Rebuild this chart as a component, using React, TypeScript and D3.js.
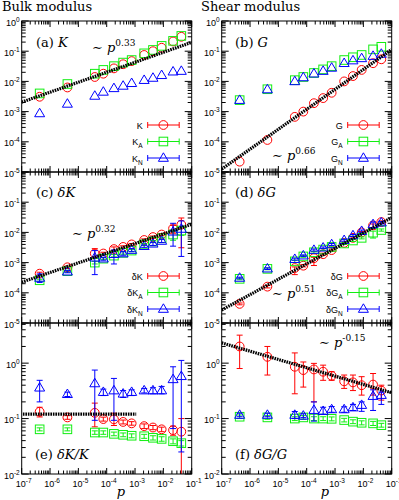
import React from "react";
import * as d3 from "d3";

// pressure values (shared by every series)
const pVals = [4.3e-7, 4.1e-6, 3.8e-5, 7.6e-5, 1.8e-4, 3.8e-4, 7.6e-4, 2.1e-3, 4.3e-3, 8.7e-3, 2.2e-2, 4.3e-2];

// (a) bulk modulus
const kTot = [3.1e-3, 6.3e-3, 1.4e-2, 1.8e-2, 2.7e-2, 3.7e-2, 4.7e-2, 7.5e-2, 0.1, 0.13, 0.21, 0.3];
const kAff = [4.0e-3, 8.2e-3, 1.8e-2, 2.4e-2, 3.2e-2, 4.2e-2, 5.1e-2, 8.5e-2, 0.11, 0.15, 0.22, 0.32];
const kNon = [8.7e-4, 1.8e-3, 3.3e-3, 4.5e-3, 5.9e-3, 7.1e-3, 8.7e-3, 1.1e-2, 1.3e-2, 1.6e-2, 2.1e-2, 2.2e-2];

// (b) shear modulus
const gTot = [2.2e-5, 1.15e-4, 6.7e-4, 1.0e-3, 1.9e-3, 2.8e-3, 4.2e-3, 1.0e-2, 1.5e-2, 2.4e-2, 4.0e-2, 5.4e-2];
const gAff = [2.4e-3, 5.5e-3, 1.1e-2, 1.4e-2, 1.9e-2, 2.5e-2, 3.2e-2, 5.1e-2, 6.3e-2, 7.5e-2, 0.115, 0.14];
const gNon = [2.4e-3, 5.4e-3, 1.0e-2, 1.35e-2, 1.8e-2, 2.2e-2, 2.8e-2, 4.0e-2, 4.9e-2, 5.8e-2, 6.9e-2, 8.1e-2];

// (c) fluctuations of K
const dkTot = [4.3e-4, 7.0e-4, 2.0e-3, 2.0e-3, 2.8e-3, 3.3e-3, 4.0e-3, 5.6e-3, 7.0e-3, 8.5e-3, 1.35e-2, 1.8e-2];
const dkTotErr = [[3.9e-4, 4.8e-4], [6.4e-4, 7.7e-4], [1.4e-3, 2.9e-3], [1.8e-3, 2.2e-3], [2.4e-3, 3.3e-3], [3.0e-3, 3.6e-3], [3.7e-3, 4.3e-3], [5.1e-3, 6.1e-3], [6.4e-3, 7.6e-3], [7.8e-3, 9.2e-3], [9e-3, 1.7e-2], [3.1e-3, 3.0e-2]];
const dkAff = [2.6e-4, 5.2e-4, 1.0e-3, 1.35e-3, 1.7e-3, 2.1e-3, 2.5e-3, 4.0e-3, 5.0e-3, 6.4e-3, 8.5e-3, 1.15e-2];
const dkAffErr = [[2.4e-4, 2.8e-4], [4.8e-4, 5.6e-4], [9e-4, 1.1e-3], [1.25e-3, 1.45e-3], [1.55e-3, 1.85e-3], [1.9e-3, 2.3e-3], [2.3e-3, 2.7e-3], [3.7e-3, 4.3e-3], [4.6e-3, 5.4e-3], [5.9e-3, 6.9e-3], [5.5e-3, 1.1e-2], [8e-3, 1.5e-2]];
const dkNon = [3.1e-4, 5.0e-4, 1.45e-3, 1.35e-3, 1.9e-3, 2.0e-3, 2.6e-3, 3.5e-3, 4.2e-3, 5.2e-3, 1.05e-2, 1.3e-2];
const dkNonErr = [[2.2e-4, 4.2e-4], [4.6e-4, 5.4e-4], [4e-4, 2.5e-3], [1.2e-3, 1.5e-3], [9e-4, 2.6e-3], [1.75e-3, 2.3e-3], [2.3e-3, 2.9e-3], [3.2e-3, 3.8e-3], [3.7e-3, 4.7e-3], [4.6e-3, 5.9e-3], [3.5e-3, 2.0e-2], [1.6e-3, 2.4e-2]];

// (d) fluctuations of G
const dgTot = [4.3e-5, 1.6e-4, 6.6e-4, 7.9e-4, 1.4e-3, 1.9e-3, 2.6e-3, 4.5e-3, 6.6e-3, 1.0e-2, 1.7e-2, 2.2e-2];
const dgTotErr = [[4.0e-5, 4.6e-5], [1.45e-4, 1.75e-4], [4e-4, 7.2e-4], [7.2e-4, 8.6e-4], [8e-4, 1.5e-3], [1.75e-3, 2.05e-3], [2.4e-3, 2.8e-3], [4.2e-3, 4.8e-3], [6.1e-3, 7.1e-3], [9.3e-3, 1.07e-2], [1.3e-2, 1.9e-2], [2.0e-2, 2.4e-2]];
const dgAff = [2.9e-4, 6.2e-4, 1.1e-3, 1.6e-3, 2.2e-3, 2.7e-3, 3.3e-3, 4.3e-3, 5.4e-3, 6.6e-3, 9.8e-3, 1.2e-2];
const dgAffErr = [[2.7e-4, 3.1e-4], [5.8e-4, 6.6e-4], [1.0e-3, 1.2e-3], [1.5e-3, 1.7e-3], [2.05e-3, 2.35e-3], [2.5e-3, 2.9e-3], [3.1e-3, 3.5e-3], [4.0e-3, 4.6e-3], [5.0e-3, 5.8e-3], [6.1e-3, 7.1e-3], [6.5e-3, 1.1e-2], [1.1e-2, 1.3e-2]];
const dgNon = [3.1e-4, 6.3e-4, 1.3e-3, 1.7e-3, 2.6e-3, 3.1e-3, 4.0e-3, 5.5e-3, 7.9e-3, 1.1e-2, 1.85e-2, 2.1e-2];
const dgNonErr = [[2.9e-4, 3.3e-4], [5.9e-4, 6.7e-4], [1.2e-3, 1.4e-3], [1.6e-3, 1.8e-3], [2.4e-3, 2.8e-3], [2.9e-3, 3.3e-3], [3.7e-3, 4.3e-3], [5.1e-3, 5.9e-3], [7.3e-3, 8.5e-3], [1.0e-2, 1.2e-2], [1.4e-2, 2.2e-2], [1.9e-2, 2.3e-2]];

// (e) dK/K
const rkTot = [0.133, 0.105, 0.127, 0.098, 0.097, 0.087, 0.082, 0.073, 0.069, 0.064, 0.062, 0.058];
const rkTotErr = [[0.107, 0.16], [0.097, 0.113], [0.071, 0.19], [0.09, 0.106], [0.075, 0.125], [0.08, 0.094], [0.076, 0.088], [0.066, 0.08], [0.063, 0.075], [0.058, 0.07], [0.05, 0.073], [0.005, 0.1]];
const rkAff = [0.064, 0.064, 0.056, 0.056, 0.053, 0.051, 0.049, 0.048, 0.045, 0.043, 0.039, 0.036];
const rkAffErr = [[0.06, 0.068], [0.06, 0.068], [0.052, 0.06], [0.052, 0.06], [0.049, 0.057], [0.047, 0.055], [0.045, 0.053], [0.044, 0.052], [0.041, 0.049], [0.039, 0.047], [0.035, 0.043], [0.032, 0.04]];
const rkNon = [0.36, 0.275, 0.43, 0.3, 0.32, 0.28, 0.3, 0.32, 0.32, 0.32, 0.51, 0.58];
const rkNonErr = [[0.2, 0.49], [0.25, 0.3], [0.093, 0.75], [0.26, 0.34], [0.093, 0.53], [0.24, 0.32], [0.26, 0.33], [0.29, 0.35], [0.28, 0.36], [0.28, 0.38], [0.066, 0.86], [0.025, 1.12]];

// (f) dG/G
const rgTot = [2.0, 1.3, 0.86, 0.75, 0.77, 0.7, 0.59, 0.47, 0.45, 0.4, 0.41, 0.32];
const rgTotErr = [[0.8, 3.2], [0.61, 2.0], [0.28, 1.53], [0.37, 1.05], [0.2, 0.99], [0.49, 0.92], [0.49, 0.7], [0.35, 0.61], [0.32, 0.61], [0.265, 0.57], [0.265, 0.65], [0.215, 0.4]];
const rgAff = [0.108, 0.105, 0.1, 0.105, 0.1, 0.1, 0.099, 0.094, 0.088, 0.084, 0.082, 0.076];
const rgAffErr = [[0.1, 0.116], [0.097, 0.113], [0.092, 0.108], [0.097, 0.113], [0.092, 0.108], [0.092, 0.108], [0.091, 0.107], [0.087, 0.101], [0.081, 0.095], [0.077, 0.091], [0.075, 0.089], [0.07, 0.082]];
const rgNon = [0.116, 0.116, 0.116, 0.112, 0.142, 0.136, 0.146, 0.146, 0.158, 0.175, 0.254, 0.265];
const rgNonErr = [[0.108, 0.125], [0.108, 0.125], [0.1, 0.134], [0.104, 0.122], [0.09, 0.2], [0.12, 0.16], [0.13, 0.165], [0.13, 0.163], [0.14, 0.18], [0.135, 0.2], [0.14, 0.33], [0.18, 0.3]];

// power-law guides: [prefactor, exponent, pFrom, pTo]
const fitA = [0.42, 0.33, 1e-7, 1e-1];
const fitB = [0.52, 0.66, 1e-7, 1e-1];
const fitC = [0.039, 0.32, 1e-7, 1e-1];
const fitD = [0.1, 0.51, 1e-7, 1e-1];
const fitE = [0.12, 0, 1.1e-7, 1.1e-3];
const fitF = [0.207, -0.15, 1e-7, 1e-1];

const RED = "#ff0000";
const GREEN = "#11ee11";
const BLUE = "#0000ff";
const SANS = "'Liberation Sans', Arial, sans-serif";
const SERIF = "'DejaVu Serif', serif";

type Series = { v: number[]; err?: number[][]; color: string; shape: string; name: string; sub?: string };

const Marker = ({ shape, color }: { shape: string; color: string }) => {
  if (shape === "circle") return <circle r={4.4} fill="none" stroke={color} strokeWidth={1} />;
  if (shape === "square") return <rect x={-4.3} y={-4.3} width={8.6} height={8.6} fill="none" stroke={color} strokeWidth={1} />;
  return <path d="M0,-5.2L5,3.3L-5,3.3Z" fill="none" stroke={color} strokeWidth={1} />;
};

const Pow = ({ x, y, exp }: { x: number; y: number; exp: string }) => (
  <text x={x} y={y} fontFamily={SERIF} fontSize={13}>
    <tspan>∼ </tspan>
    <tspan fontStyle="italic">p</tspan>
    <tspan fontSize={9} dy={-6}>{exp}</tspan>
  </text>
);

function Panel(props: {
  id: string; left: number; top: number; bottom: number; domain: number[];
  series: Series[]; fit: number[]; legend: boolean; xLabels: boolean;
  yLabelSkipTop: boolean; children?: React.ReactNode;
}) {
  const { id, left, top, bottom, domain, series, fit, legend, xLabels, yLabelSkipTop } = props;
  const right = left + 170;
  const x = d3.scaleLog().domain([1e-7, 1e-1]).range([left, right]);
  const y = d3.scaleLog().domain(domain).range([bottom, top]);
  const isMajor = (t: number) => Math.abs(Math.log10(t) - Math.round(Math.log10(t))) < 1e-6;
  const xt = x.ticks();
  const yt = y.ticks();
  const line = d3.line<number>().x((p) => x(p)).y((p) => y(fit[0] * Math.pow(p, fit[1])));
  const fitPts = d3.range(0, 41).map((i) => Math.pow(10, Math.log10(fit[2]) + (i / 40) * (Math.log10(fit[3]) - Math.log10(fit[2]))));
  return (
    <g>
      <defs>
        <clipPath id={id}>
          <rect x={left} y={top} width={170} height={bottom - top} />
        </clipPath>
      </defs>
      {xt.map((t, i) => {
        const L = isMajor(t) ? 6 : 3.5;
        return (
          <g key={"x" + i} stroke="#000" strokeWidth={1}>
            <line x1={x(t)} x2={x(t)} y1={top} y2={top + L} />
            <line x1={x(t)} x2={x(t)} y1={bottom} y2={bottom - L} />
          </g>
        );
      })}
      {yt.map((t, i) => {
        const L = isMajor(t) ? 7 : 4;
        return (
          <g key={"y" + i} stroke="#000" strokeWidth={1}>
            <line x1={left} x2={left + L} y1={y(t)} y2={y(t)} />
            <line x1={right} x2={right - L} y1={y(t)} y2={y(t)} />
          </g>
        );
      })}
      {yt.filter(isMajor).filter((t) => !(yLabelSkipTop && Math.abs(y(t) - top) < 1)).map((t, i) => (
        <text key={"yl" + i} x={left - 2} y={y(t) + 4.5} textAnchor="end" fontFamily={SANS} fontSize={9}>
          <tspan>10</tspan>
          <tspan fontSize={6.5} dy={-4}>{Math.round(Math.log10(t))}</tspan>
        </text>
      ))}
      {xLabels && xt.filter(isMajor).map((t, i) => (
        <text key={"xl" + i} x={x(t) + 2} y={487} textAnchor="middle" fontFamily={SANS} fontSize={9}>
          <tspan>10</tspan>
          <tspan fontSize={6.5} dy={-4}>{Math.round(Math.log10(t))}</tspan>
        </text>
      ))}
      <g clipPath={`url(#${id})`}>
        {series.map((s, si) => (
          <g key={"s" + si}>
            {s.v.map((v, i) => (
              <g key={i}>
                {s.err && (
                  <g stroke={s.color} strokeWidth={1}>
                    <line x1={x(pVals[i])} x2={x(pVals[i])} y1={y(s.err[i][0])} y2={y(s.err[i][1])} />
                    <line x1={x(pVals[i]) - 3} x2={x(pVals[i]) + 3} y1={y(s.err[i][0])} y2={y(s.err[i][0])} />
                    <line x1={x(pVals[i]) - 3} x2={x(pVals[i]) + 3} y1={y(s.err[i][1])} y2={y(s.err[i][1])} />
                  </g>
                )}
                <g transform={`translate(${x(pVals[i])},${y(v)})`}>
                  <Marker shape={s.shape} color={s.color} />
                </g>
              </g>
            ))}
          </g>
        ))}
        <path d={line(fitPts) || ""} fill="none" stroke="#000" strokeWidth={3.2} strokeDasharray="1.6 0.9" />
      </g>
      {legend && series.map((s, i) => {
        const ly = top + 104 + i * 16.5;
        return (
          <g key={"lg" + i}>
            <text x={left + 121} y={ly + 3.5} textAnchor="end" fontFamily={SANS} fontSize={9}>
              <tspan>{s.name}</tspan>
              {s.sub && <tspan fontSize={6.5} dy={3}>{s.sub}</tspan>}
            </text>
            <g stroke={s.color} strokeWidth={1}>
              <line x1={left + 126} x2={left + 157.5} y1={ly} y2={ly} />
              <line x1={left + 126} x2={left + 126} y1={ly - 3} y2={ly + 3} />
              <line x1={left + 157.5} x2={left + 157.5} y1={ly - 3} y2={ly + 3} />
            </g>
            <g transform={`translate(${left + 141.7},${ly})`}>
              <Marker shape={s.shape} color={s.color} />
            </g>
          </g>
        );
      })}
      <rect x={left} y={top} width={170} height={bottom - top} fill="none" stroke="#000" strokeWidth={1} />
      {props.children}
    </g>
  );
}

export default function App() {
  const L = 21.7;
  const R = 221.7;
  const dTop = [1e-5, 1];
  const dBot = [0.01, 5.3];
  return (
    <svg width={399} height={500} style={{ position: "absolute", left: 0, top: 0, background: "#fff" }}>
      <text x={2} y={11} fontFamily={SERIF} fontSize={13}>Bulk modulus</text>
      <text x={201} y={11} fontFamily={SERIF} fontSize={13}>Shear modulus</text>

      <Panel id="pa" left={L} top={21} bottom={172} domain={dTop} fit={fitA} legend xLabels={false} yLabelSkipTop={false}
        series={[
          { v: kTot, color: RED, shape: "circle", name: "K" },
          { v: kAff, color: GREEN, shape: "square", name: "K", sub: "A" },
          { v: kNon, color: BLUE, shape: "triangle", name: "K", sub: "N" },
        ]}>
        <text x={36} y={47} fontFamily={SERIF} fontSize={13}>(a) <tspan fontStyle="italic">K</tspan></text>
        <Pow x={92} y={52} exp="0.33" />
      </Panel>
      <Panel id="pb" left={R} top={21} bottom={172} domain={dTop} fit={fitB} legend xLabels={false} yLabelSkipTop={false}
        series={[
          { v: gTot, color: RED, shape: "circle", name: "G" },
          { v: gAff, color: GREEN, shape: "square", name: "G", sub: "A" },
          { v: gNon, color: BLUE, shape: "triangle", name: "G", sub: "N" },
        ]}>
        <text x={235} y={47} fontFamily={SERIF} fontSize={13}>(b) <tspan fontStyle="italic">G</tspan></text>
        <Pow x={272} y={160} exp="0.66" />
      </Panel>
      <Panel id="pc" left={L} top={172} bottom={323} domain={dTop} fit={fitC} legend xLabels={false} yLabelSkipTop
        series={[
          { v: dkTot, err: dkTotErr, color: RED, shape: "circle", name: "δK" },
          { v: dkAff, err: dkAffErr, color: GREEN, shape: "square", name: "δK", sub: "A" },
          { v: dkNon, err: dkNonErr, color: BLUE, shape: "triangle", name: "δK", sub: "N" },
        ]}>
        <text x={36} y={197} fontFamily={SERIF} fontSize={13}>(c) <tspan fontStyle="italic">δK</tspan></text>
        <Pow x={72} y={238} exp="0.32" />
      </Panel>
      <Panel id="pd" left={R} top={172} bottom={323} domain={dTop} fit={fitD} legend xLabels={false} yLabelSkipTop
        series={[
          { v: dgTot, err: dgTotErr, color: RED, shape: "circle", name: "δG" },
          { v: dgAff, err: dgAffErr, color: GREEN, shape: "square", name: "δG", sub: "A" },
          { v: dgNon, err: dgNonErr, color: BLUE, shape: "triangle", name: "δG", sub: "N" },
        ]}>
        <text x={235} y={197} fontFamily={SERIF} fontSize={13}>(d) <tspan fontStyle="italic">δG</tspan></text>
        <Pow x={272} y={298} exp="0.51" />
      </Panel>
      <Panel id="pe" left={L} top={323} bottom={474} domain={dBot} fit={fitE} legend={false} xLabels yLabelSkipTop
        series={[
          { v: rkTot, err: rkTotErr, color: RED, shape: "circle", name: "δK" },
          { v: rkAff, err: rkAffErr, color: GREEN, shape: "square", name: "δK" },
          { v: rkNon, err: rkNonErr, color: BLUE, shape: "triangle", name: "δK" },
        ]}>
        <text x={35} y={459} fontFamily={SERIF} fontSize={13}>(e) <tspan fontStyle="italic">δK/K</tspan></text>
      </Panel>
      <Panel id="pf" left={R} top={323} bottom={474} domain={dBot} fit={fitF} legend={false} xLabels yLabelSkipTop
        series={[
          { v: rgTot, err: rgTotErr, color: RED, shape: "circle", name: "δG" },
          { v: rgAff, err: rgAffErr, color: GREEN, shape: "square", name: "δG" },
          { v: rgNon, err: rgNonErr, color: BLUE, shape: "triangle", name: "δG" },
        ]}>
        <text x={235} y={459} fontFamily={SERIF} fontSize={13}>(f) <tspan fontStyle="italic">δG/G</tspan></text>
        <Pow x={319} y={347} exp="-0.15" />
      </Panel>

      <text x={121} y={496} fontFamily={SERIF} fontSize={13} fontStyle="italic" textAnchor="middle">p</text>
      <text x={325} y={496} fontFamily={SERIF} fontSize={13} fontStyle="italic" textAnchor="middle">p</text>
    </svg>
  );
}
